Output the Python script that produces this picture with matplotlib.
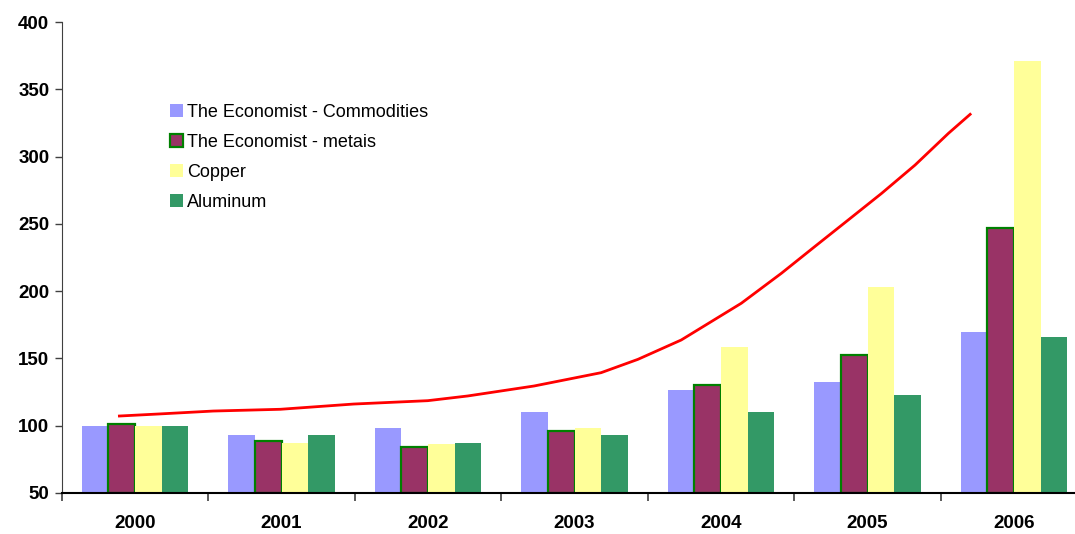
import matplotlib.pyplot as plt
import numpy as np

years = ["2000", "2001", "2002", "2003", "2004", "2005", "2006"]
commodities = [100, 93, 98, 110, 126.5, 132.5, 169.5]
metais = [101, 88.5, 84.5, 96, 130.5, 152.5, 247]
copper = [100, 87, 86.5, 98, 158.5, 203, 371]
aluminum = [100, 93, 87, 93, 110.5, 122.5, 166]

# hand-drawn trend curve (position in category units, value)
trend_x = [-0.107, 0.160, 0.534, 0.992, 1.492, 1.998, 2.271, 2.723, 3.181,
           3.432, 3.728, 4.138, 4.412, 4.638, 4.868, 5.096, 5.324, 5.552, 5.700]
trend_y = [107.2, 108.7, 110.9, 112.2, 116.1, 118.6, 122.1, 129.5, 139.4,
           149.3, 163.7, 191.0, 213.3, 233.0, 252.9, 272.7, 293.7, 317.3, 331.4]

plt.rcParams["font.family"] = ["Liberation Sans", "DejaVu Sans"]

fig = plt.figure(figsize=(10.75, 5.34), dpi=100)
ax = fig.add_axes([0.0575, 0.0768, 0.954, 0.882])

x = np.arange(len(years))
width = 0.182
series = [
    ("The Economist - Commodities", commodities, "#9999FF", None, 0),
    ("The Economist - metais", metais, "#993366", "#008000", 1.6),
    ("Copper", copper, "#FFFF99", None, 0),
    ("Aluminum", aluminum, "#339966", None, 0),
]
for i, (label, values, color, edge, lw) in enumerate(series):
    offset = (i - 1.5) * width
    heights = np.array(values) - 50
    ax.bar(x + offset, heights, width, bottom=50, color=color,
           edgecolor=edge if edge else color, linewidth=lw, label=label, zorder=2)

ax.plot(trend_x, trend_y, color="#FF0000", linewidth=2.0, zorder=3)

ax.set_xlim(-0.5, 6.5)
ax.set_ylim(50, 400)
ax.set_yticks(np.arange(50, 401, 50))
ax.set_xticks(x, years)
ax.set_xticks(np.arange(-0.5, 7, 1), minor=True)
ax.tick_params(axis="x", which="major", length=0, pad=16)
ax.tick_params(axis="x", which="minor", length=6, width=1.2, color="#404040")
ax.tick_params(axis="y", length=5, width=1.0, color="#404040", pad=4)
for lbl in ax.get_xticklabels() + ax.get_yticklabels():
    lbl.set_fontweight("bold")
    lbl.set_fontsize(13.5)

for side in ["top", "right"]:
    ax.spines[side].set_visible(False)
ax.spines["left"].set_color("#404040")
ax.spines["bottom"].set_color("black")
ax.spines["bottom"].set_linewidth(1.5)

ax.legend(loc="upper left", bbox_to_anchor=(0.158, 0.805),
          bbox_transform=fig.transFigure, frameon=False, fontsize=13,
          handlelength=0.72, handleheight=0.72, handletextpad=0.25,
          labelspacing=0.72, borderpad=0, borderaxespad=0)

fig.savefig("out.png", dpi=100)
